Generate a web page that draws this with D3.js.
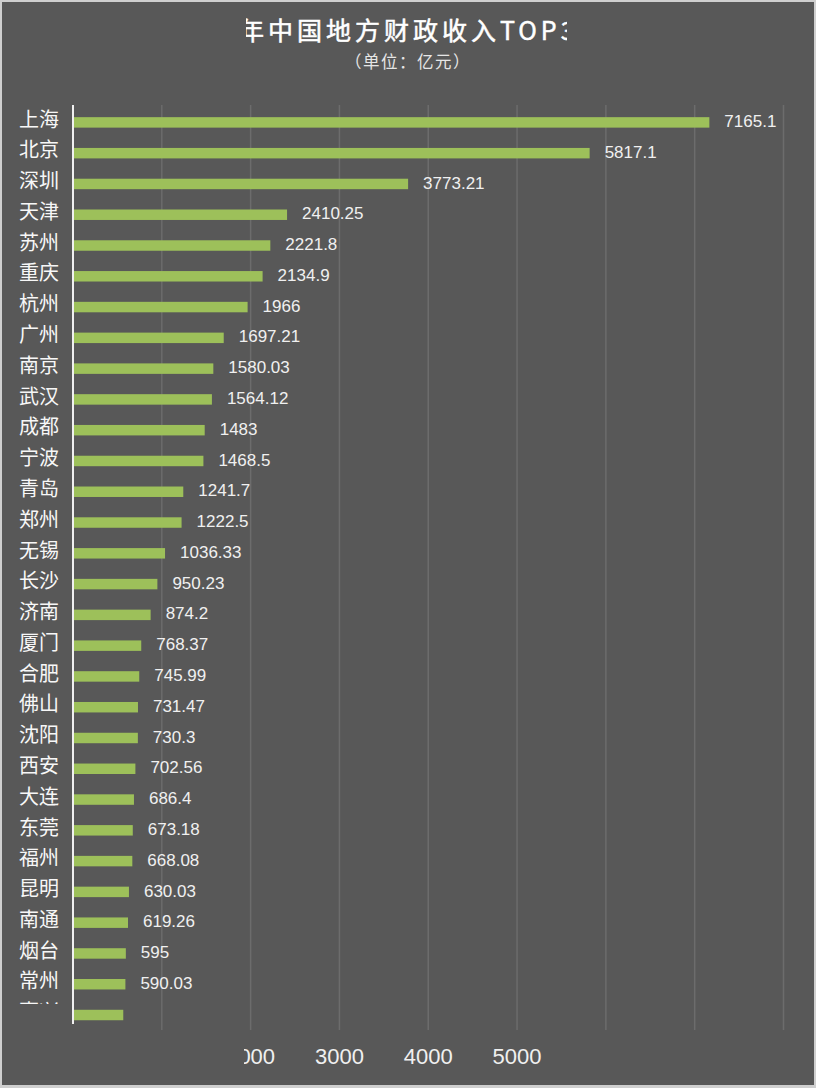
<!DOCTYPE html>
<html><head><meta charset="utf-8">
<script src="https://cdn.jsdelivr.net/npm/d3@7/dist/d3.min.js"></script>
<style>
html,body{margin:0;padding:0;background:#cfcfcf;}
svg{display:block;}
</style></head>
<body>
<svg id="chart" width="816" height="1088"></svg>
<script>
const categories = ["上海","北京","深圳","天津","苏州","重庆","杭州","广州","南京","武汉","成都","宁波","青岛","郑州","无锡","长沙","济南","厦门","合肥","佛山","沈阳","西安","大连","东莞","福州","昆明","南通","烟台","常州","嘉兴"];
const values = [7165.1,5817.1,3773.21,2410.25,2221.8,2134.9,1966,1697.21,1580.03,1564.12,1483,1468.5,1241.7,1222.5,1036.33,950.23,874.2,768.37,745.99,731.47,730.3,702.56,686.4,673.18,668.08,630.03,619.26,595,590.03,566];
const gridTicks = [1000,2000,3000,4000,5000,6000,7000,8000];
const axisLabels = [2000,3000,4000,5000];
const titleText = "年中国地方财政收入TOP3";
const subtitleText = "（单位：亿元）";

const data = categories.map((c,i)=>({c, v: values[i]}));
const svg = d3.select("#chart");
const cjk = "'Noto Sans CJK SC','Noto Sans',sans-serif";
const lat = "'Liberation Sans','Noto Sans CJK SC',sans-serif";

svg.append("rect").attr("x",2).attr("y",2).attr("width",812).attr("height",1083).attr("fill","#585858");

const defs = svg.append("defs");
defs.append("clipPath").attr("id","titleClip").append("rect").attr("x",246).attr("y",0).attr("width",321).attr("height",48);
defs.append("clipPath").attr("id","tickClip").append("rect").attr("x",244).attr("y",1030).attr("width",320).attr("height",50);
defs.append("clipPath").attr("id","lastClip").append("rect").attr("x",0).attr("y",990).attr("width",816).attr("height",14);

const x = d3.scaleLinear().domain([0,8000]).range([73,783.5]);
const y = d3.scaleBand().domain(categories).range([107,1030.4]).paddingInner(0.66).paddingOuter(0.33);

// gridlines
svg.append("g").selectAll("line").data(gridTicks).join("line")
  .attr("x1",d=>x(d)).attr("x2",d=>x(d)).attr("y1",105).attr("y2",1030)
  .attr("stroke","#6c6c6c").attr("stroke-width",1.5);

// bars
svg.append("g").selectAll("rect").data(data).join("rect")
  .attr("x",x(0)).attr("y",d=>y(d.c)).attr("width",d=>x(d.v)-x(0)).attr("height",y.bandwidth())
  .attr("fill","#9dc05a");

// axis line
svg.append("line").attr("x1",x(0)).attr("x2",x(0)).attr("y1",105).attr("y2",1024)
  .attr("stroke","#f0f0f0").attr("stroke-width",2);

// category labels
const n = data.length;
svg.append("g").selectAll("text").data(data).join("text")
  .attr("x",59).attr("y",d=>y(d.c)+y.bandwidth()/2-3)
  .attr("dy","0.36em").attr("text-anchor","end")
  .attr("font-family",cjk).attr("font-size",20).attr("fill","#f7f7f7")
  .attr("clip-path",(d,i)=>i===n-1?"url(#lastClip)":null)
  .text(d=>d.c);

// value labels
svg.append("g").selectAll("text").data(data).join("text")
  .attr("x",d=>x(d.v)+15).attr("y",d=>y(d.c)+y.bandwidth()/2-1.5)
  .attr("dy","0.36em")
  .attr("font-family",lat).attr("font-size",17).attr("fill","#f0f0f0")
  .attr("clip-path",(d,i)=>i===n-1?"url(#lastClip)":null)
  .text(d=>String(d.v));

// x axis labels
svg.append("g").attr("clip-path","url(#tickClip)").selectAll("text").data(axisLabels).join("text")
  .attr("x",d=>x(d)).attr("y",1056).attr("dy","0.36em").attr("text-anchor","middle")
  .attr("font-family",lat).attr("font-size",22).attr("fill","#f0f0f0")
  .text(d=>d);

// title
svg.append("text").attr("x",239).attr("y",40).attr("clip-path","url(#titleClip)")
  .attr("font-family",cjk).attr("font-size",25).attr("letter-spacing",4)
  .attr("fill","#ffffff").attr("stroke","#ffffff").attr("stroke-width",0.5)
  .text(titleText);
svg.append("text").attr("x",408).attr("y",62).attr("dy","0.36em").attr("text-anchor","middle")
  .attr("font-family",cjk).attr("font-size",16.5).attr("letter-spacing",1.5).attr("fill","#e6e6e6")
  .text(subtitleText);
</script>
</body></html>
